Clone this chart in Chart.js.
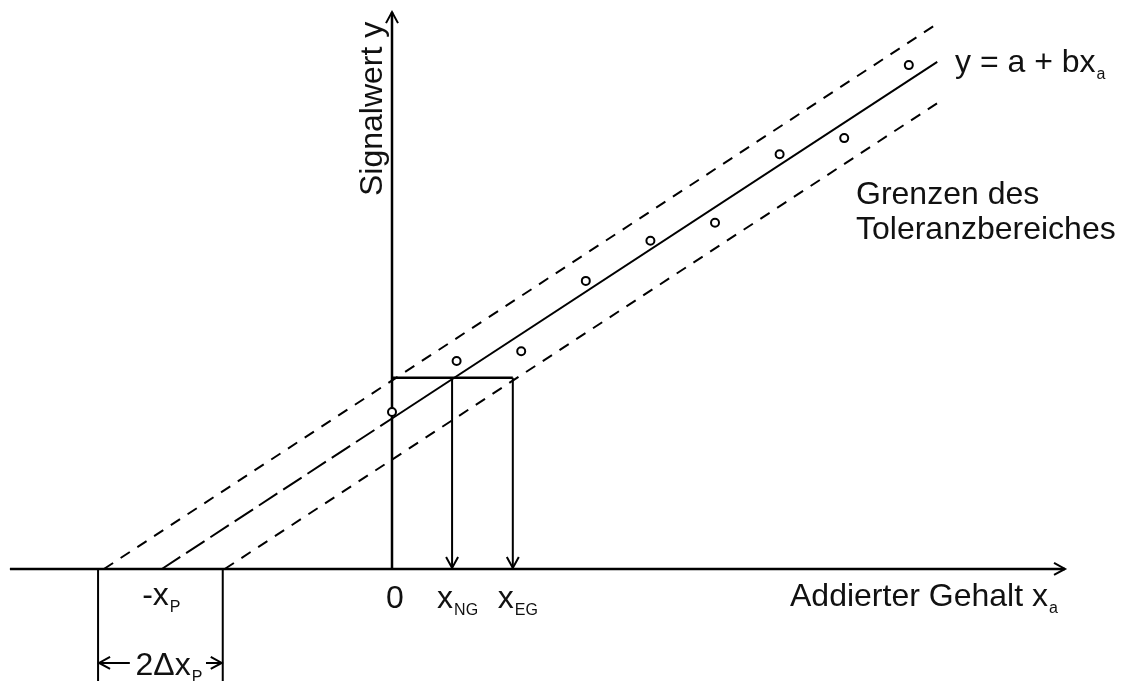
<!DOCTYPE html>
<html>
<head>
<meta charset="utf-8">
<script src="https://cdn.jsdelivr.net/npm/chart.js@4.4.1/dist/chart.umd.min.js"></script>
<style>
  html, body { margin: 0; padding: 0; background: #fff; }
  #wrap { width: 1122px; height: 681px; position: relative; }
</style>
</head>
<body>
<div id="wrap"><canvas id="calib"></canvas></div>
<script>
// measured values (x in steps of added content, y in signal units)
const xAdded = [0, 1, 2, 3, 4, 5, 6, 7, 8];
const ySignal = [2.43, 3.22, 3.37, 4.46, 5.08, 5.36, 6.42, 6.67, 7.80];

// regression y = a + b*x
const intercept = 2.33;
const slope = 0.654;
const lineEndX = 8.44;
const xP = intercept / slope;            // -x_P where line meets the x axis

// tolerance limits: [x at y=0, y at lineEndX]
const upperLimit = [-4.46, 8.44];
const lowerLimit = [-2.59, 7.21];
const bracketX = [-4.55, -2.62];          // 2Δx_P marks

// detection / quantification limits
const yCrit = 2.96;
const xNG = 0.93;
const xEG = 1.87;

// axis extent
const xRange = [-6.068, 11.30];
const yRange = [-1.734, 8.808];
const xAxisEnds = [-5.915, 10.418];
const yAxisTop = 8.62;

const FONT = '"Liberation Sans", Arial, sans-serif';
const BIG = '32px ';
const SMALL = '16px ';
const INK = '#000';

function seg(x1, y1, x2, y2) { return [{x: x1, y: y1}, {x: x2, y: y2}]; }

function lineSet(data, width, dash) {
  return {
    type: 'line', data: data, showLine: true, borderColor: INK,
    borderWidth: width, borderDash: dash || [], pointRadius: 0,
    fill: false, tension: 0, order: 2
  };
}

const regY = x => intercept + slope * x;

function arrowHead(ctx, tx, ty, dx, dy) {
  const len = 11, half = 6;
  const n = Math.hypot(dx, dy); dx /= n; dy /= n;
  ctx.beginPath();
  ctx.moveTo(tx - dx * len - dy * half, ty - dy * len + dx * half);
  ctx.lineTo(tx, ty);
  ctx.lineTo(tx - dx * len + dy * half, ty - dy * len - dx * half);
  ctx.stroke();
}

function subText(ctx, main, sub, x, y, align) {
  ctx.font = BIG + FONT;
  const w1 = ctx.measureText(main).width;
  ctx.font = SMALL + FONT;
  const w2 = ctx.measureText(sub).width;
  let left = x;
  if (align === 'center') left = x - (w1 + w2) / 2;
  if (align === 'right') left = x - w1;
  ctx.textAlign = 'left';
  ctx.font = BIG + FONT;
  ctx.fillText(main, left, y);
  ctx.font = SMALL + FONT;
  ctx.fillText(sub, left + w1 + 1, y + 7);
}

const annotate = {
  id: 'annotate',
  afterDatasetsDraw(chart) {
    const ctx = chart.ctx;
    const sx = chart.scales.x, sy = chart.scales.y;
    const px = v => sx.getPixelForValue(v);
    const py = v => sy.getPixelForValue(v);
    ctx.save();
    ctx.strokeStyle = INK;
    ctx.fillStyle = '#111';
    ctx.lineWidth = 2;
    ctx.textBaseline = 'alphabetic';

    // axis arrows
    arrowHead(ctx, px(xAxisEnds[1]), py(0), 1, 0);
    arrowHead(ctx, px(0), py(yAxisTop), 0, -1);
    // limit arrows down to x axis
    arrowHead(ctx, px(xNG), py(0) - 1, 0, 1);
    arrowHead(ctx, px(xEG), py(0) - 1, 0, 1);

    // 2Δx_P bracket
    const by = py(0) + 94;
    const mid = (px(bracketX[0]) + px(bracketX[1])) / 2 + 8;
    ctx.font = BIG + FONT;
    const tw = ctx.measureText('2\u0394x').width + 12;
    const tl = mid - tw / 2, tr = mid + tw / 2;
    ctx.beginPath();
    ctx.moveTo(px(bracketX[0]) + 1, by); ctx.lineTo(tl - 5, by);
    ctx.moveTo(tr + 4, by); ctx.lineTo(px(bracketX[1]) - 1, by);
    ctx.stroke();
    arrowHead(ctx, px(bracketX[0]) + 1, by, -1, 0);
    arrowHead(ctx, px(bracketX[1]) - 1, by, 1, 0);
    subText(ctx, '2\u0394x', 'P', mid, by + 12, 'center');

    // tick labels on the x axis
    ctx.font = BIG + FONT;
    ctx.textAlign = 'center';
    ctx.fillText('0', px(0) + 3, py(0) + 39);
    subText(ctx, 'x', 'NG', px(xNG) + 1, py(0) + 39, 'right');
    subText(ctx, 'x', 'EG', px(xEG) + 1, py(0) + 39, 'right');
    subText(ctx, '-x', 'P', px(-xP) - 1, py(0) + 36, 'center');

    // axis titles
    subText(ctx, 'Addierter Gehalt x', 'a', 790, py(0) + 37, 'left');
    ctx.save();
    ctx.translate(px(0) - 10, 196);
    ctx.rotate(-Math.PI / 2);
    ctx.font = BIG + FONT;
    ctx.textAlign = 'left';
    ctx.fillText('Signalwert y', 0, 0);
    ctx.restore();

    // line labels
    subText(ctx, 'y = a + bx', 'a', 955, 72, 'left');
    ctx.font = BIG + FONT;
    ctx.textAlign = 'left';
    ctx.fillText('Grenzen des', 856, 204);
    ctx.fillText('Toleranzbereiches', 856, 239);
    ctx.restore();
  }
};

const points = xAdded.map((x, i) => ({x: x, y: ySignal[i]}));

new Chart(document.getElementById('calib'), {
  type: 'scatter',
  data: {
    datasets: [
      {
        data: points, pointStyle: 'circle', pointRadius: 4, borderWidth: 2,
        borderColor: INK, backgroundColor: '#fff', order: 1
      },
      // axes
      lineSet(seg(xAxisEnds[0], 0, xAxisEnds[1], 0), 2.5),
      lineSet(seg(0, 0, 0, yAxisTop), 2.5),
      // regression: extrapolated part dashed, measured part solid
      lineSet(seg(-xP, 0, 0, regY(0)), 2, [22, 7]),
      lineSet(seg(0, regY(0), lineEndX, regY(lineEndX)), 2),
      // tolerance limits
      lineSet(seg(upperLimit[0], 0, lineEndX, upperLimit[1]), 2, [11, 9]),
      lineSet(seg(lowerLimit[0], 0, lineEndX, lowerLimit[1]), 2, [11, 9]),
      // critical value and limits
      lineSet(seg(0, yCrit, xEG, yCrit), 2.5),
      lineSet(seg(xNG, yCrit, xNG, 0), 2),
      lineSet(seg(xEG, yCrit, xEG, 0), 2),
      // 2Δx_P bracket
      lineSet(seg(bracketX[0], 0, bracketX[0], yRange[0]), 2),
      lineSet(seg(bracketX[1], 0, bracketX[1], yRange[0]), 2)
    ]
  },
  options: {
    responsive: true,
    maintainAspectRatio: false,
    animation: false,
    layout: { padding: 0, autoPadding: false },
    plugins: { legend: { display: false }, tooltip: { enabled: false } },
    scales: {
      x: { type: 'linear', min: xRange[0], max: xRange[1], display: false },
      y: { type: 'linear', min: yRange[0], max: yRange[1], display: false }
    }
  },
  plugins: [annotate]
});
</script>
</body>
</html>
